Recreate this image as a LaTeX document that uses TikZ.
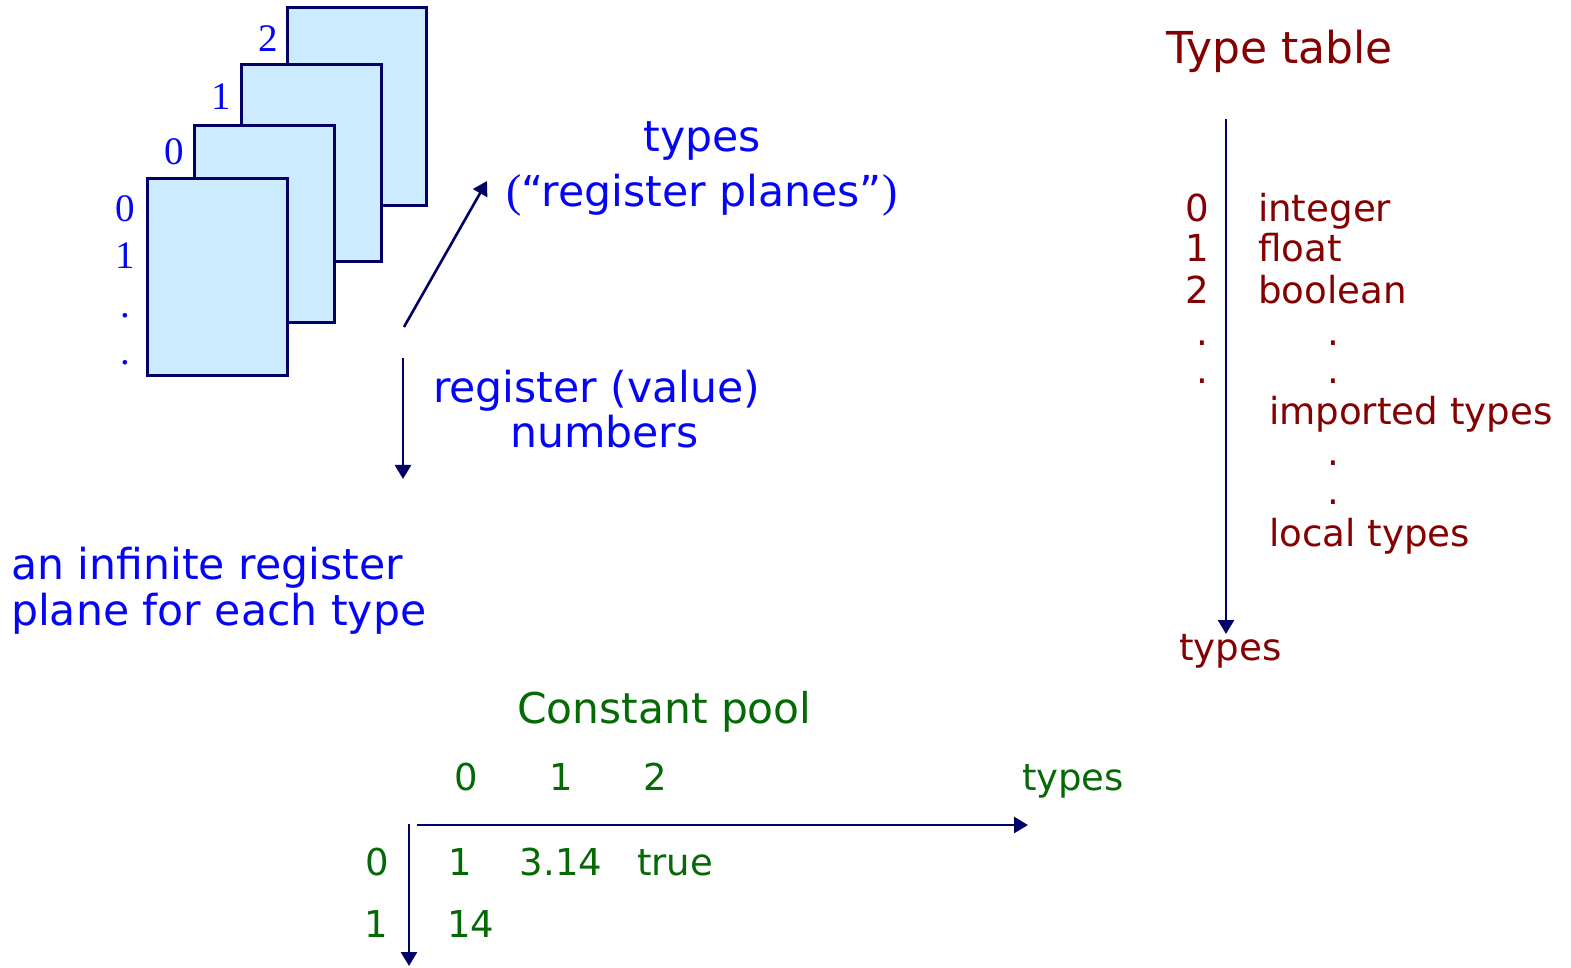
\documentclass[tikz,border=0pt]{standalone}
\usepackage{fontspec}
\setmainfont{DejaVu Sans}
\newfontfamily\numserif{Liberation Serif}
\usetikzlibrary{arrows.meta}

\definecolor{regblue}{HTML}{0505F5}
\definecolor{typered}{HTML}{850000}
\definecolor{poolgreen}{HTML}{056A05}
\definecolor{axisnavy}{HTML}{000066}
\definecolor{sheetfill}{HTML}{CCEBFF}

\newcommand{\serifparen}[1]{{\numserif\fontsize{23pt}{24pt}\selectfont#1}}

\tikzset{
  sheet/.style={draw=axisnavy, fill=sheetfill, line width=1.5pt},
  axisarrow/.style={draw=axisnavy, line width=1.3pt, -{Triangle[length=7pt,width=8pt]}},
  txt/.style={inner sep=0pt, outer sep=0pt, anchor=base},
  txtl/.style={txt, anchor=base west},
  bluetext/.style={text=regblue, font=\fontsize{21.3pt}{23pt}\selectfont},
  serifnum/.style={text=regblue, font=\numserif\fontsize{19.5pt}{21pt}\selectfont},
  redtitle/.style={text=typered, font=\fontsize{22pt}{24pt}\selectfont},
  redtext/.style={text=typered, font=\fontsize{18.6pt}{20pt}\selectfont},
  greentitle/.style={text=poolgreen, font=\fontsize{21.2pt}{23pt}\selectfont},
  greentext/.style={text=poolgreen, font=\fontsize{18.5pt}{20pt}\selectfont},
}

\begin{document}
\begin{tikzpicture}[x=0.5pt, y=-0.5pt]
\useasboundingbox (0,0) rectangle (1571,968);

% stack of register planes, back to front
\filldraw[sheet] (287,8) rectangle (426,206);
\filldraw[sheet] (241,65) rectangle (381,262);
\filldraw[sheet] (194,126) rectangle (334,323);
\filldraw[sheet] (147,179) rectangle (287,376);

% plane numbers
\node[txt, serifnum] (pn2) at (268,52) {2};
\node[txt, serifnum] (pn1) at (221,110) {1};
\node[txt, serifnum] (pn0) at (174,165) {0};

% register numbers down the front plane
\node[txt, serifnum] (rn0) at (125,222) {0};
\node[txt, serifnum] (rn1) at (125,269) {1};
\node[txt, serifnum] (rnd1) at (125,318) {.};
\node[txt, serifnum] (rnd2) at (125,365) {.};

% axes of the plane stack
\coordinate (typesFrom) at (404,327);
\coordinate (typesTo) at (487,181);
\draw[axisarrow] (typesFrom) -- (typesTo);
\coordinate (regFrom) at (403,358);
\coordinate (regTo) at (403,479);
\draw[axisarrow] (regFrom) -- (regTo);

\node[txt, bluetext] (typesLbl) at (702,152) {types};
\node[txt, bluetext] (planesLbl) at (702,207) {\serifparen{(}“register planes”\serifparen{)}};
\node[txtl, bluetext] (regLbl) at (433,403) {register (value)};
\node[txtl, bluetext] (numLbl) at (510,448) {numbers};

\node[txtl, bluetext] (inf1) at (11,580) {an infinite register};
\node[txtl, bluetext] (inf2) at (11,625) {plane for each type};

% type table
\node[txtl, redtitle] (ttTitle) at (1166,64) {Type table};
\coordinate (ttTop) at (1226,119);
\coordinate (ttBot) at (1226,634);
\draw[axisarrow] (ttTop) -- (ttBot);

\node[txt, redtext] (ti0) at (1197,222) {0};
\node[txt, redtext] (ti1) at (1197,262) {1};
\node[txt, redtext] (ti2) at (1197,304) {2};
\node[txt, redtext] (tid1) at (1202,346) {.};
\node[txt, redtext] (tid2) at (1202,384) {.};

\node[txtl, redtext] (tInt) at (1258,222) {integer};
\node[txtl, redtext] (tFloat) at (1258,262) {float};
\node[txtl, redtext] (tBool) at (1258,304) {boolean};
\node[txt, redtext] (td1) at (1333,346) {.};
\node[txt, redtext] (td2) at (1333,384) {.};
\node[txtl, redtext] (tImp) at (1269,425) {imported types};
\node[txt, redtext] (td3) at (1333,466) {.};
\node[txt, redtext] (td4) at (1333,505) {.};
\node[txtl, redtext] (tLoc) at (1269,546) {local types};
\node[txtl, redtext] (tTypes) at (1179,661) {types};

% constant pool
\node[txtl, greentitle] (cpTitle) at (517,723) {Constant pool};
\node[txt, greentext] (ch0) at (466,790) {0};
\node[txt, greentext] (ch1) at (561,790) {1};
\node[txt, greentext] (ch2) at (655,790) {2};
\node[txtl, greentext] (chTypes) at (1022,790) {types};

\coordinate (hFrom) at (417,825);
\coordinate (hTo) at (1028,825);
\draw[axisarrow] (hFrom) -- (hTo);
\coordinate (vFrom) at (409,824);
\coordinate (vTo) at (409,966);
\draw[axisarrow] (vFrom) -- (vTo);

\node[txt, greentext] (cr0) at (377,875) {0};
\node[txt, greentext] (cr1) at (376,937) {1};
\node[txt, greentext] (c00) at (460,875) {1};
\node[txt, greentext] (c01) at (561,875) {3.14};
\node[txt, greentext] (c02) at (675,875) {true};
\node[txt, greentext] (c10) at (471,937) {14};
\end{tikzpicture}
\end{document}
